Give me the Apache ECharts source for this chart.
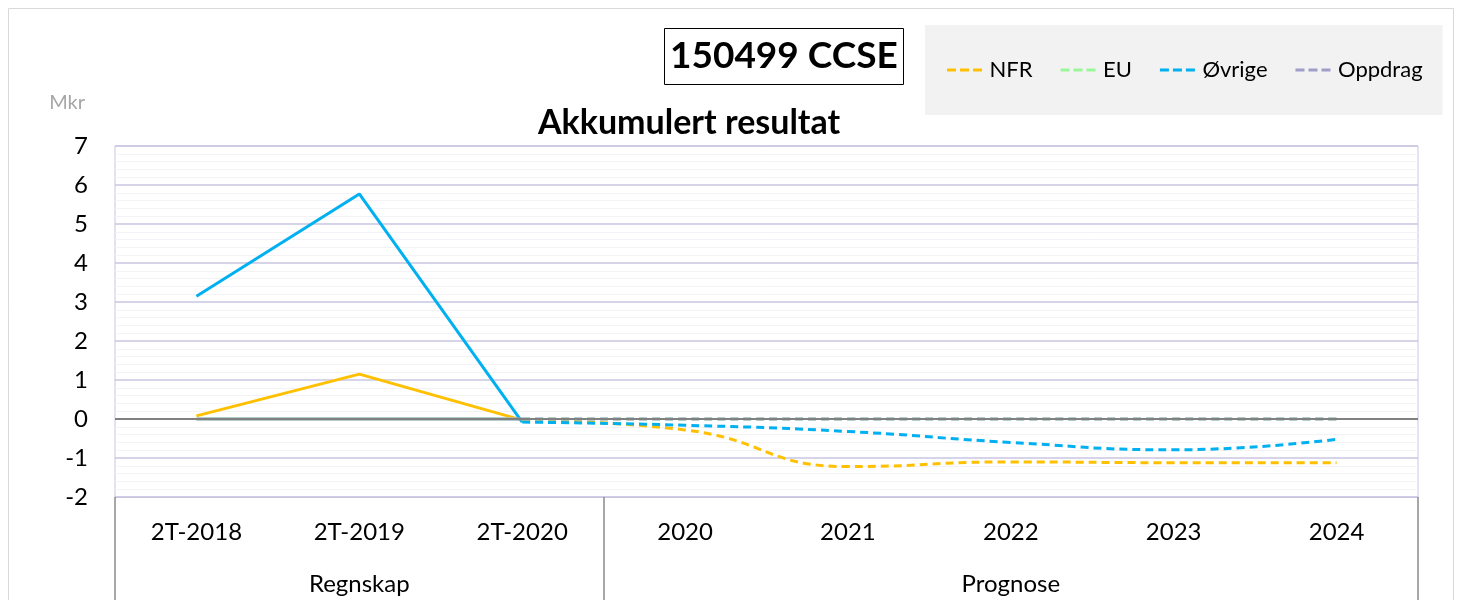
<!DOCTYPE html>
<html>
<head>
<meta charset="utf-8">
<script src="https://cdn.jsdelivr.net/npm/echarts@6/dist/echarts.min.js"></script>
<style>
  html, body { margin: 0; padding: 0; background: #fff; }
  #main { width: 1462px; height: 600px; }
</style>
</head>
<body>
<div id="main"></div>
<script>
// kategorier og verdier (Mkr)
var categories = ['2T-2018', '2T-2019', '2T-2020', '2020', '2021', '2022', '2023', '2024'];
var groupLabels = ['Regnskap', 'Prognose'];
var groupCenters = [1.5, 5.5];
var groupBounds = [0, 3, 8];

var nfrRegnskap = [0.08, 1.15, -0.03];
var nfrPrognose = [-0.03, -0.28, -1.22, -1.1, -1.12, -1.12];
var euRegnskap = [0, 0, 0];
var euPrognose = [0, 0, 0, 0, 0, 0];
var ovrigeRegnskap = [3.15, 5.77, -0.08];
var ovrigePrognose = [-0.08, -0.16, -0.32, -0.6, -0.79, -0.52];
var oppdragRegnskap = [0, 0, 0];
var oppdragPrognose = [0, 0, 0, 0, 0, 0];

var FONT = 'Lato, "Open Sans", sans-serif';
var DASH_ICON = 'path://M0,0h9v3h-9z M13,0h9v3h-9z M26,0h9v3h-9z';

function regnskap(arr) {
  var out = [];
  for (var i = 0; i < categories.length; i++) out.push(i < arr.length ? arr[i] : null);
  return out;
}
function prognose(arr) {
  var start = categories.length - arr.length;
  var out = [];
  for (var i = 0; i < categories.length; i++) out.push(i >= start ? arr[i - start] : null);
  return out;
}

function solid(name, color, data, extra) {
  var s = {
    name: name,
    type: 'line',
    data: regnskap(data),
    symbol: 'none',
    lineStyle: { color: color, width: 3 },
    itemStyle: { color: color }
  };
  return Object.assign(s, extra || {});
}
function dashed(name, color, data) {
  return {
    name: name,
    type: 'line',
    data: prognose(data),
    symbol: 'none',
    smooth: true,
    lineStyle: { color: color, width: 3, type: [8, 5] },
    itemStyle: { color: color }
  };
}

var myChart = echarts.init(document.getElementById('main'));
var option = {
  animation: false,
  textStyle: { fontFamily: FONT },
  graphic: [{
    type: 'rect',
    shape: { x: 8.5, y: 8.5, width: 1445, height: 620 },
    style: { fill: 'none', stroke: '#d9d9d9', lineWidth: 1 },
    silent: true
  }],
  title: [
    {
      text: '150499 CCSE',
      left: 664,
      top: 28,
      padding: [10, 6, 10, 6],
      borderColor: '#000',
      borderWidth: 1,
      textStyle: { fontFamily: FONT, fontSize: 37, fontWeight: 'bold', color: '#000' }
    },
    {
      text: 'Akkumulert resultat',
      left: 533,
      top: 101,
      textStyle: { fontFamily: FONT, fontSize: 34, fontWeight: 'bold', color: '#000' }
    }
  ],
  legend: {
    data: ['NFR', 'EU', 'Øvrige', 'Oppdrag'].map(function (n) { return { name: n, icon: DASH_ICON }; }),
    left: 925,
    top: 25,
    padding: [34, 20, 34, 22],
    itemGap: 28,
    itemWidth: 36,
    itemHeight: 3,
    backgroundColor: '#f2f2f2',
    textStyle: { fontFamily: FONT, fontSize: 22, color: '#000', padding: [0, 0, 0, 2] }
  },
  grid: {
    left: 115,
    right: 44,
    top: 146,
    bottom: 103,
    show: true,
    borderColor: '#c9c6e2',
    borderWidth: 1
  },
  xAxis: [
    {
      type: 'category',
      data: categories,
      boundaryGap: true,
      axisLine: { onZero: false, lineStyle: { color: '#c9c6e2' } },
      axisTick: { show: false },
      axisLabel: { color: '#000', fontSize: 24, margin: 23, interval: 0 }
    },
    {
      type: 'value',
      min: 0,
      max: 8,
      position: 'bottom',
      axisLine: { show: false, onZero: false },
      splitLine: { show: false },
      axisTick: {
        show: true,
        length: 110,
        customValues: groupBounds,
        lineStyle: { color: '#8c8c8c', width: 1.5 }
      },
      axisLabel: {
        color: '#000',
        fontSize: 24,
        margin: 75,
        customValues: groupCenters,
        formatter: function (v) {
          return groupLabels[groupCenters.indexOf(v)] || '';
        }
      }
    }
  ],
  yAxis: {
    type: 'value',
    min: -2,
    max: 7,
    interval: 1,
    name: 'Mkr',
    nameLocation: 'end',
    nameGap: 33,
    nameTextStyle: { color: '#a6a6a6', fontSize: 20, align: 'right', padding: [0, 30, 0, 0] },
    axisLine: { show: false },
    axisTick: { show: false },
    axisLabel: { color: '#000', fontSize: 24, margin: 27 },
    splitLine: { lineStyle: { color: '#c9c6e2', width: 1.5 } },
    minorTick: { show: false, splitNumber: 5 },
    minorSplitLine: { show: true, lineStyle: { color: '#f3f3f7', width: 1 } }
  },
  series: [
    solid('NFR regnskap', '#ffc000', nfrRegnskap, {
      markLine: {
        silent: true,
        symbol: 'none',
        label: { show: false },
        lineStyle: { color: '#808080', width: 2, type: 'solid' },
        data: [{ yAxis: 0 }]
      }
    }),
    solid('EU regnskap', '#99f799', euRegnskap),
    solid('Øvrige regnskap', '#00b0f0', ovrigeRegnskap),
    solid('Oppdrag regnskap', '#a09dc9', oppdragRegnskap),
    dashed('NFR', '#ffc000', nfrPrognose),
    dashed('EU', '#99f799', euPrognose),
    dashed('Øvrige', '#00b0f0', ovrigePrognose),
    dashed('Oppdrag', '#a09dc9', oppdragPrognose)
  ]
};
option && myChart.setOption(option);
</script>
</body>
</html>
